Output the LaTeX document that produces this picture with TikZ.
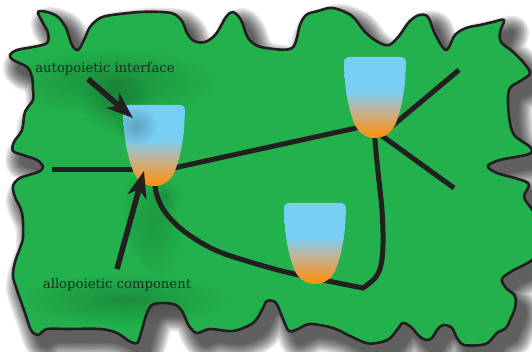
\documentclass[tikz,border=0pt]{standalone}
\usepackage{fontspec}
\newfontfamily\labelfont{DejaVu Serif}
\usetikzlibrary{arrows.meta,fadings}
\definecolor{blobgreen}{RGB}{34,177,76}
\definecolor{inkline}{RGB}{35,31,32}
\definecolor{cupblue}{RGB}{120,207,245}
\definecolor{cupmid}{RGB}{195,178,150}
\definecolor{cuporange}{RGB}{247,148,29}
\definecolor{labelink}{RGB}{30,45,35}
\pgfdeclareverticalshading{cupgrad}{100bp}{color(0bp)=(cuporange); color(28bp)=(cuporange); color(42bp)=(cupmid); color(54bp)=(cupblue); color(100bp)=(cupblue)}
\tikzfading[name=softglow, inner color=transparent!0, outer color=transparent!100]
\def\blobpath{plot[smooth cycle, tension=0.55] coordinates {
(38,12) (47,12) (58,17) (66,28) (72,45) (78,50) (84,40) (90,27) (100,18) (112,15) (140,12) (162,12) (174,14) (182,21) (187,33) (194,41) (205,42) (216,34) (226,17) (233,12) (241,20) (247,36) (254,44) (266,48) (292,48) (300,25) (306,15) (318,11) (333,8) (352,16) (365,32) (378,42) (389,45) (399,36) (409,22) (419,15) (428,17) (435,34) (446,50) (455,35) (466,28) (480,25) (493,22) (504,20) (500,32) (501,42) (512,51) (523,62) (530,73) (522,80) (510,88) (508,102) (510,123) (515,136) (530,147) (529,154) (500,160) (488,166) (497,173) (528,183) (524,197) (534,213) (540,235) (534,258) (512,271) (502,279) (506,288) (515,296) (515,308) (510,320) (506,328) (497,333) (489,342) (481,345) (464,345) (457,338) (452,328) (443,325) (437,330) (432,338) (426,340) (419,336) (411,327) (403,323) (397,330) (389,339) (377,343) (366,343) (350,336) (333,328) (310,324) (298,329) (289,331) (283,319) (276,303) (267,301) (262,310) (253,323) (233,331) (210,329) (197,333) (189,326) (182,311) (173,304) (154,304) (147,313) (141,333) (137,343) (129,341) (117,333) (100,329) (67,329) (47,329) (38,335) (31,330) (25,313) (17,290) (13,276) (15,262) (20,248) (23,237) (22,213) (15,197) (13,186) (20,178) (38,172) (43,167) (37,160) (23,155) (13,151) (14,142) (22,130) (25,112) (33,100) (33,90) (32,77) (27,67) (13,60) (10,55) (17,50) (33,47) (47,43) (48,33) (43,23)}}
\begin{document}
\begin{tikzpicture}[x=1pt,y=-1pt,
  blobedge/.style={draw=inkline, line width=2.6pt, line join=round},
  conn/.style={draw=inkline, line width=5pt},
  pointer/.style={draw=inkline, line width=5.5pt, -{Stealth[length=27pt,width=20pt,inset=8pt,line width=0pt]}},
  lbl/.style={inner sep=0pt, anchor=base, text=labelink, font=\labelfont\fontsize{13.2}{16}\selectfont},
  glow/.style={fill=black, path fading=softglow},
  cupshape/.pic={\shade[shading=cupgrad] (-25,0) -- (25,0) .. controls (29,0) and (31,2) .. (31,6) -- (30,25) .. controls (28,45) and (24,58) .. (22,63) .. controls (18,76) and (9,81) .. (0,81) .. controls (-9,81) and (-18,76) .. (-22,63) .. controls (-24,58) and (-28,45) .. (-30,25) -- (-31,6) .. controls (-31,2) and (-29,0) .. (-25,0) -- cycle;}
]
\useasboundingbox (0,0) rectangle (532,352);
\fill[white] (0,0) rectangle (532,352);
% drop shadow
\foreach \k in {1,...,10} {
  \begin{scope}[transparency group, opacity=0.09]
    \filldraw[black, line width=\k*3.2pt, line join=round, shift={(9,12)}] \blobpath;
  \end{scope}
}
% blob
\fill[blobgreen] \blobpath;
% glows
\fill[glow, opacity=0.2] (112,82) ellipse[x radius=105, y radius=34];
\fill[glow, opacity=0.2] (118,104) ellipse[x radius=36, y radius=30];
\fill[glow, opacity=0.14, rotate around={15:(152,222)}] (152,222) ellipse[x radius=26, y radius=60];
\fill[glow, opacity=0.12] (166,196) ellipse[x radius=18, y radius=16];
\fill[glow, opacity=0.2] (124,300) ellipse[x radius=105, y radius=26];
% connectors
\coordinate (westEnd) at (52,170);
\coordinate (hubA) at (150,170);
\coordinate (linkA) at (160,171);
\coordinate (linkB) at (370,125);
\coordinate (hubB1) at (385,132);
\coordinate (northEast) at (459,70);
\coordinate (hubB2) at (378,133);
\coordinate (eastEnd) at (454,188);
\draw[conn] (westEnd) -- (hubA);
\draw[conn] (linkA) -- (linkB);
\draw[conn] (hubB1) -- (northEast);
\draw[conn] (hubB2) -- (eastEnd);
\draw[conn, line join=miter] plot[smooth, tension=0.6] coordinates {(155,175) (156,192) (165,212) (185,232) (215,250) (250,262) (290,273) (333,282) (363,288)} -- plot[smooth, tension=0.6] coordinates {(363,288) (375,278) (381,265) (383,243) (382,210) (378,172) (375,140) (375,128)};
% cups
\pic at (154,105) {cupshape};
\pic at (375,57) {cupshape};
\pic at (315,203) {cupshape};
\fill[glow, opacity=0.22] (136,126) ellipse[x radius=22, y radius=20];
% outline
\draw[blobedge] \blobpath;
% pointers
\coordinate (tailA) at (88,79);
\coordinate (tipA) at (133,118);
\coordinate (tailB) at (117,269);
\coordinate (tipB) at (144,171);
\draw[pointer] (tailA) -- (tipA);
\draw[pointer] (tailB) -- (tipB);
% labels
\node[lbl] (lblA) at (105,73) {autopoietic interface};
\node[lbl] (lblB) at (117,288) {allopoietic component};
\end{tikzpicture}
\end{document}
